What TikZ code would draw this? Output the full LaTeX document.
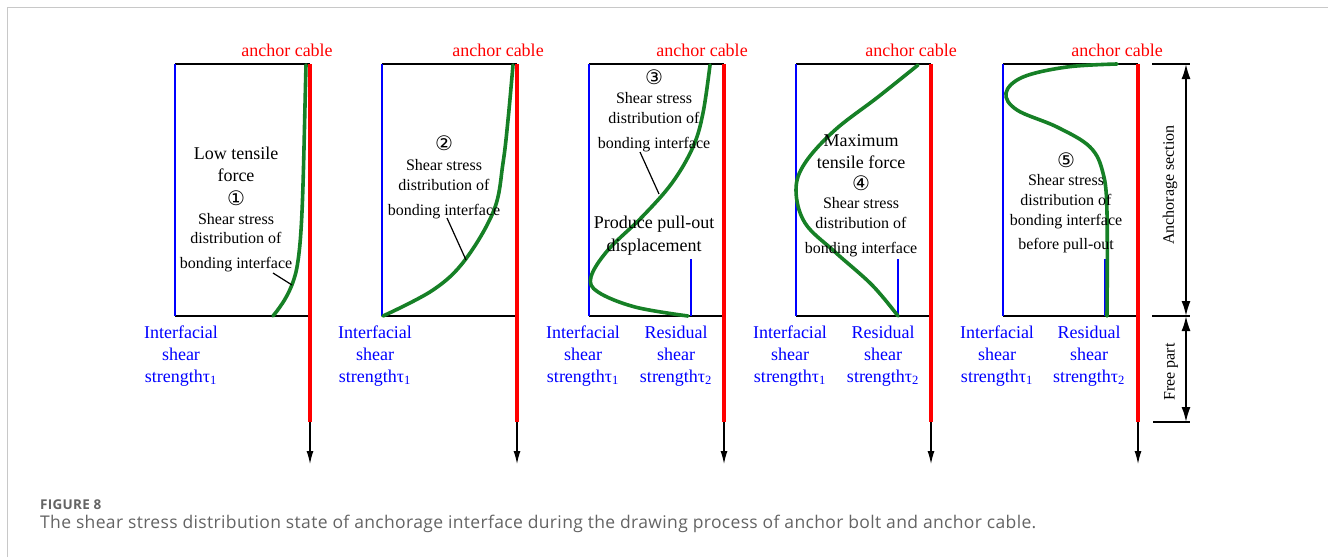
\documentclass[tikz,border=0pt]{standalone}
\usepackage{fontspec}
\setmainfont{Liberation Serif}
\newfontfamily\circfont{DejaVu Sans}
\newfontfamily\capfont[LetterSpace=2]{Open Sans}
\newfontfamily\capheadfont[LetterSpace=2]{Open Sans}
\usetikzlibrary{arrows.meta}
\definecolor{curvegreen}{RGB}{22,128,38}
\definecolor{framegrey}{RGB}{200,200,200}
\definecolor{captiongrey}{RGB}{100,100,100}
\tikzset{
  boxline/.style={black, line width=1.3pt},
  tauline/.style={blue, line width=1.3pt},
  cable/.style={red, line width=3.6pt},
  pullarrow/.style={black, line width=1.2pt, -{Latex[length=13pt,width=7pt]}},
  stresscurve/.style={curvegreen, line width=3.6pt, line cap=round},
  leader/.style={black, line width=1.2pt},
  body/.style={anchor=base, inner sep=0pt, font=\fontsize{16}{18}\selectfont},
  bigbody/.style={anchor=base, inner sep=0pt, font=\fontsize{18}{20}\selectfont},
  circnum/.style={anchor=center, inner sep=0pt, font=\circfont\fontsize{20}{22}\selectfont},
  bluelbl/.style={anchor=base, inner sep=0pt, blue, font=\fontsize{18}{20}\selectfont},
  cablelbl/.style={anchor=base, inner sep=0pt, red, font=\fontsize{18}{20}\selectfont},
  dimtext/.style={inner sep=0pt, rotate=90, font=\fontsize{16}{18}\selectfont},
  dimline/.style={black, line width=1.8pt},
  dimarrow/.style={black, line width=1.8pt, {Latex[length=15pt,width=9pt]}-{Latex[length=15pt,width=9pt]}},
}
\begin{document}
\begin{tikzpicture}[x=1pt, y=-1pt]
\useasboundingbox (0,0) rectangle (1328,557);
\fill[white] (0,0) rectangle (1328,557);
% outer frame (top and left edges)
\draw[framegrey, line width=1pt] (7,557) -- (7,7) -- (1328,7);

% ---------- panel 1 ----------
\draw[boxline] (175,64) -- (310,64);
\draw[boxline] (175,316) -- (310,316);
\draw[tauline] (175,64) -- (175,316);
\draw[stresscurve] (306,65) .. controls (303,180) and (303,240) .. (296,272) .. controls (291,292) and (282,305) .. (273,316);
\coordinate (c1top) at (310,64);
\coordinate (c1end) at (310,422);
\coordinate (c1tip) at (310,464);
\draw[cable] (c1top) -- (c1end);
\draw[pullarrow] (c1end) -- (c1tip);
\node[cablelbl] (cab1) at (287,56) {anchor cable};
\node[bigbody] (p1a) at (236,159) {Low tensile};
\node[bigbody] (p1b) at (236,181) {force};
\node[circnum] (p1n) at (236,198) {①};
\node[body] (p1c) at (236,224) {Shear stress};
\node[body] (p1d) at (236,243) {distribution of};
\node[body] (p1e) at (236,268) {bonding interface};
\coordinate (l1a) at (273,273);
\coordinate (l1b) at (292,285);
\draw[leader] (l1a) -- (l1b);
\node[bluelbl] (t1a) at (181,338) {Interfacial};
\node[bluelbl] (t1b) at (181,360) {shear};
\node[bluelbl] (t1c) at (181,382) {strengthτ\textsubscript{1}};

% ---------- panel 2 ----------
\draw[boxline] (382,64) -- (517,64);
\draw[boxline] (382,316) -- (517,316);
\draw[tauline] (382,64) -- (382,316);
\draw[stresscurve] plot[smooth, tension=0.6] coordinates {(513,65) (508,120) (503,163) (494,210) (465,260) (433,290) (383,316)};
\coordinate (c2top) at (517,64);
\coordinate (c2end) at (517,422);
\coordinate (c2tip) at (517,464);
\draw[cable] (c2top) -- (c2end);
\draw[pullarrow] (c2end) -- (c2tip);
\node[cablelbl] (cab2) at (498,56) {anchor cable};
\node[circnum] (p2n) at (444,143) {②};
\node[body] (p2c) at (444,170) {Shear stress};
\node[body] (p2d) at (444,190) {distribution of};
\node[body] (p2e) at (444,215) {bonding interface};
\coordinate (l2a) at (447,218);
\coordinate (l2b) at (466,260);
\draw[leader] (l2a) -- (l2b);
\node[bluelbl] (t2a) at (375,338) {Interfacial};
\node[bluelbl] (t2b) at (375,360) {shear};
\node[bluelbl] (t2c) at (375,382) {strengthτ\textsubscript{1}};

% ---------- panel 3 ----------
\draw[boxline] (589,64) -- (724,64);
\draw[boxline] (589,316) -- (724,316);
\draw[tauline] (589,64) -- (589,316);
\draw[tauline] (691,259) -- (691,316);
\draw[stresscurve] plot[smooth, tension=0.6] coordinates {(710,65) (703,113) (693,147) (672,183) (642,217) (608,250) (591,277) (598,292) (635,307) (688,316)};
\coordinate (c3top) at (724,64);
\coordinate (c3end) at (724,422);
\coordinate (c3tip) at (724,464);
\draw[cable] (c3top) -- (c3end);
\draw[pullarrow] (c3end) -- (c3tip);
\node[cablelbl] (cab3) at (702,56) {anchor cable};
\node[circnum] (p3n) at (654,77) {③};
\node[body] (p3c) at (654,103) {Shear stress};
\node[body] (p3d) at (654,123) {distribution of};
\node[body] (p3e) at (654,148) {bonding interface};
\node[bigbody] (p3f) at (654,228) {Produce pull-out};
\node[bigbody] (p3g) at (654,251) {displacement};
\coordinate (l3a) at (640,152);
\coordinate (l3b) at (659,194);
\draw[leader] (l3a) -- (l3b);
\node[bluelbl] (t3a) at (583,338) {Interfacial};
\node[bluelbl] (t3b) at (583,360) {shear};
\node[bluelbl] (t3c) at (583,382) {strengthτ\textsubscript{1}};
\node[bluelbl] (r3a) at (676,338) {Residual};
\node[bluelbl] (r3b) at (676,360) {shear};
\node[bluelbl] (r3c) at (676,382) {strengthτ\textsubscript{2}};

% ---------- panel 4 ----------
\draw[boxline] (796,64) -- (931,64);
\draw[boxline] (796,316) -- (931,316);
\draw[tauline] (796,64) -- (796,316);
\draw[tauline] (898,259) -- (898,316);
\draw[stresscurve] plot[smooth, tension=0.6] coordinates {(918,65) (878,97) (835,130) (805,163) (796,190) (805,223) (835,252) (872,285) (898,316)};
\coordinate (c4top) at (931,64);
\coordinate (c4end) at (931,422);
\coordinate (c4tip) at (931,464);
\draw[cable] (c4top) -- (c4end);
\draw[pullarrow] (c4end) -- (c4tip);
\node[cablelbl] (cab4) at (911,56) {anchor cable};
\node[bigbody] (p4a) at (861,146) {Maximum};
\node[bigbody] (p4b) at (861,168) {tensile force};
\node[circnum] (p4n) at (861,183) {④};
\node[body] (p4c) at (861,208) {Shear stress};
\node[body] (p4d) at (861,228) {distribution of};
\node[body] (p4e) at (861,253) {bonding interface};
\node[bluelbl] (t4a) at (790,338) {Interfacial};
\node[bluelbl] (t4b) at (790,360) {shear};
\node[bluelbl] (t4c) at (790,382) {strengthτ\textsubscript{1}};
\node[bluelbl] (r4a) at (883,338) {Residual};
\node[bluelbl] (r4b) at (883,360) {shear};
\node[bluelbl] (r4c) at (883,382) {strengthτ\textsubscript{2}};

% ---------- panel 5 ----------
\draw[boxline] (1003,64) -- (1138,64);
\draw[boxline] (1003,316) -- (1138,316);
\draw[tauline] (1003,64) -- (1003,316);
\draw[tauline] (1105,259) -- (1105,316);
\draw[stresscurve] plot[smooth, tension=0.6] coordinates {(1117,64) (1067,67) (1023,77) (1006,93) (1017,110) (1057,127) (1090,147) (1103,173) (1107,213) (1107,316)};
\coordinate (c5top) at (1138,64);
\coordinate (c5end) at (1138,422);
\coordinate (c5tip) at (1138,464);
\draw[cable] (c5top) -- (c5end);
\draw[pullarrow] (c5end) -- (c5tip);
\node[cablelbl] (cab5) at (1117,56) {anchor cable};
\node[circnum] (p5n) at (1066,160) {⑤};
\node[body] (p5c) at (1066,185) {Shear stress};
\node[body] (p5d) at (1066,205) {distribution of};
\node[body] (p5e) at (1066,225) {bonding interface};
\node[body] (p5f) at (1066,249) {before pull-out};
\node[bluelbl] (t5a) at (997,338) {Interfacial};
\node[bluelbl] (t5b) at (997,360) {shear};
\node[bluelbl] (t5c) at (997,382) {strengthτ\textsubscript{1}};
\node[bluelbl] (r5a) at (1089,338) {Residual};
\node[bluelbl] (r5b) at (1089,360) {shear};
\node[bluelbl] (r5c) at (1089,382) {strengthτ\textsubscript{2}};

% ---------- dimensions ----------
\coordinate (d0) at (1186,64);
\coordinate (d1) at (1186,316);
\coordinate (d2) at (1186,422);
\draw[dimline] (1152,64) -- (1190,64);
\draw[dimline] (1152,316) -- (1190,316);
\draw[dimline] (1153,422) -- (1190,422);
\draw[dimarrow] (d0) -- (d1);
\draw[dimarrow] (d1) -- (d2);
\node[dimtext] (anch) at (1170,185) {Anchorage section};
\node[dimtext] (free) at (1171,372) {Free part};

% ---------- caption ----------
\node[anchor=base west, inner sep=0pt, captiongrey, font=\capheadfont\bfseries\fontsize{13.5}{15}\selectfont] (figno) at (40,509) {FIGURE 8};
\node[anchor=base west, inner sep=0pt, captiongrey, font=\capfont\fontsize{17.5}{20}\selectfont] (figcap) at (40,528) {The shear stress distribution state of anchorage interface during the drawing process of anchor bolt and anchor cable.};
\end{tikzpicture}
\end{document}
